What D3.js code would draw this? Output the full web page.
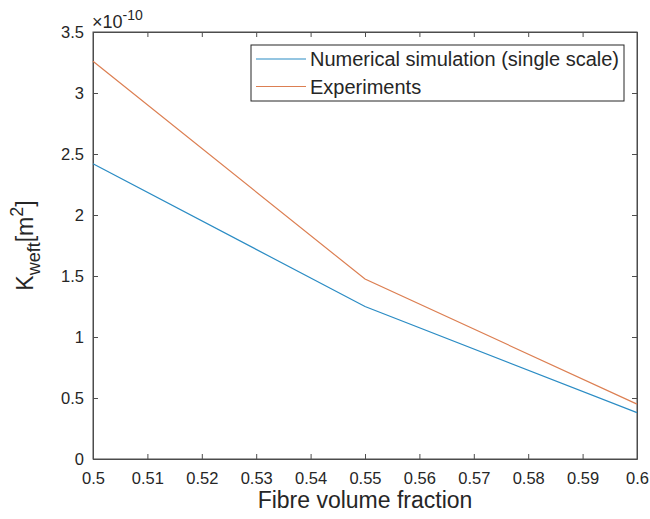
<!DOCTYPE html>
<html>
<head>
<meta charset="utf-8">
<script src="https://cdn.jsdelivr.net/npm/d3@7"></script>
<style>
  body { margin: 0; background: #fff; }
  text { font-family: "Liberation Sans", Arial, sans-serif; fill: #262626; }
</style>
</head>
<body>
<svg id="chart" width="650" height="519"></svg>
<script>
// fibre volume fraction and permeability (x 1e-10 m^2)
const fractions = [0.5, 0.55, 0.6];
const simValues = [2.42, 1.25, 0.38];
const expValues = [3.26, 1.475, 0.45];
const xTicks = [0.5, 0.51, 0.52, 0.53, 0.54, 0.55, 0.56, 0.57, 0.58, 0.59, 0.6];
const yTicks = [0, 0.5, 1, 1.5, 2, 2.5, 3, 3.5];
const seriesNames = ["Numerical simulation (single scale)", "Experiments"];
const seriesColors = ["#2b8cc4", "#dc7f52"];

const margin = {left: 93, right: 13, top: 32, bottom: 60};
const W = 650, H = 519;
const svg = d3.select("#chart");

const x = d3.scaleLinear().domain([0.5, 0.6]).range([margin.left, W - margin.right]);
const y = d3.scaleLinear().domain([0, 3.5]).range([H - margin.bottom, margin.top]);

const axisColor = "#4d4d4d";

// x axis (bottom) with inward ticks
const xAxis = svg.append("g")
  .attr("transform", `translate(0,${y(0)})`)
  .call(d3.axisBottom(x).tickValues(xTicks).tickSizeInner(-5).tickSizeOuter(0)
    .tickFormat(d => d3.format("~g")(d)));
xAxis.selectAll("text").attr("dy", null).attr("y", 25).style("font-size", "16.5px");

// top axis, ticks only
svg.append("g")
  .attr("transform", `translate(0,${y(3.5)})`)
  .call(d3.axisTop(x).tickValues(xTicks).tickSizeInner(-5).tickSizeOuter(0).tickFormat(""));

// y axis (left)
const yAxis = svg.append("g")
  .attr("transform", `translate(${x(0.5)},0)`)
  .call(d3.axisLeft(y).tickValues(yTicks).tickSizeInner(-5).tickSizeOuter(0)
    .tickFormat(d => d3.format("~g")(d)));
yAxis.selectAll("text").attr("x", -9).style("font-size", "16.5px");

// right axis, ticks only
svg.append("g")
  .attr("transform", `translate(${x(0.6)},0)`)
  .call(d3.axisRight(y).tickValues(yTicks).tickSizeInner(-5).tickSizeOuter(0).tickFormat(""));

svg.selectAll(".domain, .tick line").attr("stroke", axisColor);
svg.selectAll(".tick text").style("fill", "#262626").style("font-family", "Liberation Sans, Arial, sans-serif");

// box
svg.append("rect")
  .attr("x", x(0.5)).attr("y", y(3.5))
  .attr("width", x(0.6) - x(0.5)).attr("height", y(0) - y(3.5))
  .attr("fill", "none").attr("stroke", axisColor);

// lines
const line = d3.line().x((d, i) => x(fractions[i])).y(d => y(d));
[simValues, expValues].forEach((vals, i) => {
  svg.append("path")
    .datum(vals)
    .attr("d", line)
    .attr("fill", "none")
    .attr("stroke", seriesColors[i])
    .attr("stroke-width", 1.2);
});

// exponent label
const expo = svg.append("text").attr("x", x(0.5) - 1).attr("y", 28).style("font-size", "18px");
expo.append("tspan").text("\u00d710");
expo.append("tspan").attr("dy", -8).style("font-size", "14px").text("-10");

// axis labels
svg.append("text")
  .attr("x", (x(0.5) + x(0.6)) / 2).attr("y", 508)
  .attr("text-anchor", "middle").style("font-size", "23px")
  .text("Fibre volume fraction");

const yl = svg.append("text")
  .attr("transform", `translate(33,${(y(0) + y(3.5)) / 2}) rotate(-90)`)
  .attr("text-anchor", "middle").style("font-size", "23px");
yl.append("tspan").text("K");
yl.append("tspan").attr("dy", 7).style("font-size", "18px").text("weft");
yl.append("tspan").attr("dy", -7).text("[m");
yl.append("tspan").attr("dy", -10).style("font-size", "18px").text("2");
yl.append("tspan").attr("dy", 10).text("]");

// legend
const lg = svg.append("g");
lg.append("rect")
  .attr("x", 251).attr("y", 45).attr("width", 373).attr("height", 56)
  .attr("fill", "#fff").attr("stroke", "#262626");
seriesNames.forEach((name, i) => {
  const ly = 59 + i * 27.5;
  lg.append("line")
    .attr("x1", 256).attr("x2", 306).attr("y1", ly).attr("y2", ly)
    .attr("stroke", seriesColors[i]).attr("stroke-width", 1.2);
  lg.append("text")
    .attr("x", 310).attr("y", ly).attr("dy", "0.35em")
    .style("font-size", "20px").text(name);
});
</script>
</body>
</html>
